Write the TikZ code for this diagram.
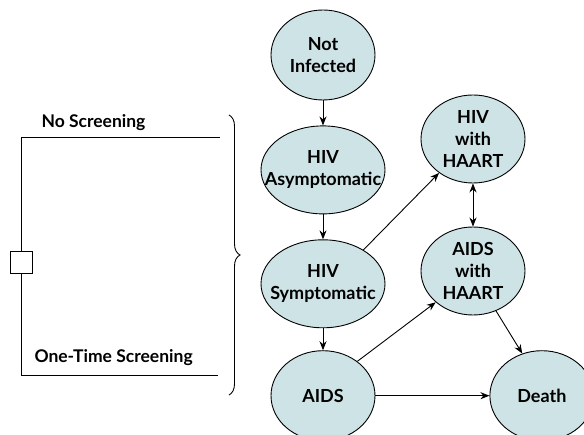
\documentclass[tikz,border=0pt]{standalone}
\usepackage{fontspec}
\setmainfont{Lato}
\usetikzlibrary{positioning, shapes.geometric, decorations.pathreplacing, arrows.meta}

\definecolor{statefill}{RGB}{206,227,230}
\tikzset{
  state/.style={ellipse, draw, fill=statefill, line width=0.9pt, align=center,
    inner xsep=-25pt, inner ysep=-14pt, font=\bfseries\fontsize{18}{22}\selectfont},
  trans/.style={-{Stealth[length=9pt,width=7pt]}, line width=0.9pt},
  branch/.style={line width=0.9pt},
  armlabel/.style={font=\bfseries\fontsize{17.5}{20}\selectfont, anchor=base west}
}

\begin{document}
\begin{tikzpicture}[x=1pt, y=-1pt, node distance=25pt]
  \useasboundingbox (0,0) rectangle (584,435);

  % health states
  \node[state, minimum width=104pt, minimum height=90pt] (NI) at (323,55) {Not\\Infected};
  \node[state, minimum width=124pt, minimum height=88pt, below=25pt of NI] (HA) {HIV\\Asymptomatic};
  \node[state, minimum width=124pt, minimum height=88pt, below=25pt of HA] (HS) {HIV\\Symptomatic};
  \node[state, minimum width=104pt, minimum height=90pt, below=22pt of HS] (AIDS) {AIDS};
  \node[state, minimum width=104pt, minimum height=88pt] (HWH) at (473,139) {HIV\\with\\HAART};
  \node[state, minimum width=104pt, minimum height=88pt] (AWH) at (473,271) {AIDS\\with\\HAART};
  \node[state, minimum width=104pt, minimum height=90pt, right=114pt of AIDS] (Death) {Death};

  \draw[trans] (NI) -- (HA);
  \draw[trans] (HA) -- (HS);
  \draw[trans] (HS) -- (AIDS);
  \draw[trans] (HS.40) -- (HWH.225);
  \draw[trans] (AIDS.45) -- (AWH.220);
  \draw[trans] (AIDS) -- (Death);
  \draw[trans] (AWH.300) -- (Death.115);
  \draw[trans, {Stealth[length=9pt,width=7pt]}-{Stealth[length=9pt,width=7pt]}] (HWH) -- (AWH);

  % decision node and strategies
  \node[draw, fill=white, line width=0.9pt, minimum size=22pt, inner sep=0pt] (dec) at (21,262) {};
  \coordinate (noEnd) at (220,137);
  \coordinate (oneEnd) at (218,375);
  \draw[branch] (dec.north) |- (noEnd);
  \draw[branch] (dec.south) |- (oneEnd);
  \node[armlabel] (noLab) at (38,128) {No Screening};
  \node[armlabel] (oneLab) at (31,363) {One-Time Screening};

  \coordinate (braceTop) at (229,115);
  \coordinate (braceBot) at (229,395);
  \draw[line width=0.9pt, decorate, decoration={brace, amplitude=11pt}] (braceTop) -- (braceBot);
\end{tikzpicture}
\end{document}
